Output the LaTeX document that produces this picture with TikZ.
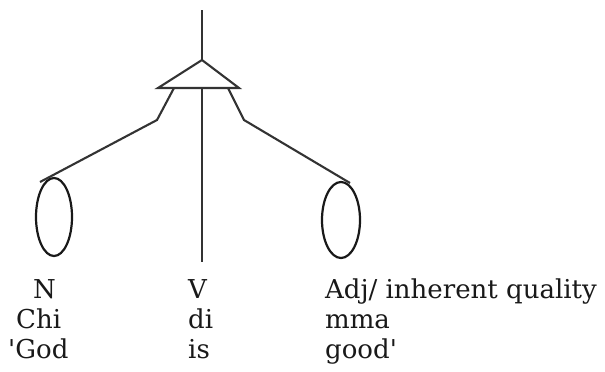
\documentclass[tikz,border=0pt]{standalone}
\usepackage{fontspec}
\setmainfont{DejaVu Serif}
\usetikzlibrary{shapes.geometric}
\begin{document}
\begin{tikzpicture}[x=1pt,y=-1pt,
  ln/.style={line width=2.1pt,draw=black!80},
  oval/.style={ellipse,draw=black!90,line width=2.2pt,inner sep=0pt},
  lbl/.style={anchor=base west,inner sep=0pt,text=black!90,font=\fontsize{26}{30}\selectfont}]
\useasboundingbox (0,0) rectangle (605,372);
% skeleton points
\coordinate (top) at (202,10);
\coordinate (apex) at (202,60);
\coordinate (tl) at (158,88);
\coordinate (tr) at (239,88);
\coordinate (bl) at (174,88);
\coordinate (bm) at (202,88);
\coordinate (br) at (228,88);
\coordinate (kl) at (157,120);
\coordinate (kr) at (244,120);
\coordinate (vend) at (202,262);
% ellipses
\node[oval,minimum width=36pt,minimum height=78pt] (eL) at (54,217) {};
\node[oval,minimum width=38pt,minimum height=76pt] (eR) at (341,220) {};
\coordinate (eLtop) at (40,182);
\coordinate (eRtop) at (350,183);
% tree
\draw[ln] (top) -- (apex);
\draw[ln,line join=miter] (apex) -- (tl) -- (tr) -- cycle;
\draw[ln] (bl) -- (kl) -- (eLtop);
\draw[ln] (br) -- (kr) -- (eRtop);
\draw[ln] (bm) -- (vend);
% labels
\node[lbl] (N) at (33,298) {N};
\node[lbl] (V) at (188,298) {V};
\node[lbl] (A) at (325,298) {Adj/ inherent quality};
\node[lbl] (Chi) at (16,328) {Chi};
\node[lbl] (di) at (188,328) {di};
\node[lbl] (mma) at (325,328) {mma};
\node[lbl] (God) at (8,358) {\textquotesingle God};
\node[lbl] (is) at (188,358) {is};
\node[lbl] (good) at (325,358) {good\textquotesingle};
\end{tikzpicture}
\end{document}
